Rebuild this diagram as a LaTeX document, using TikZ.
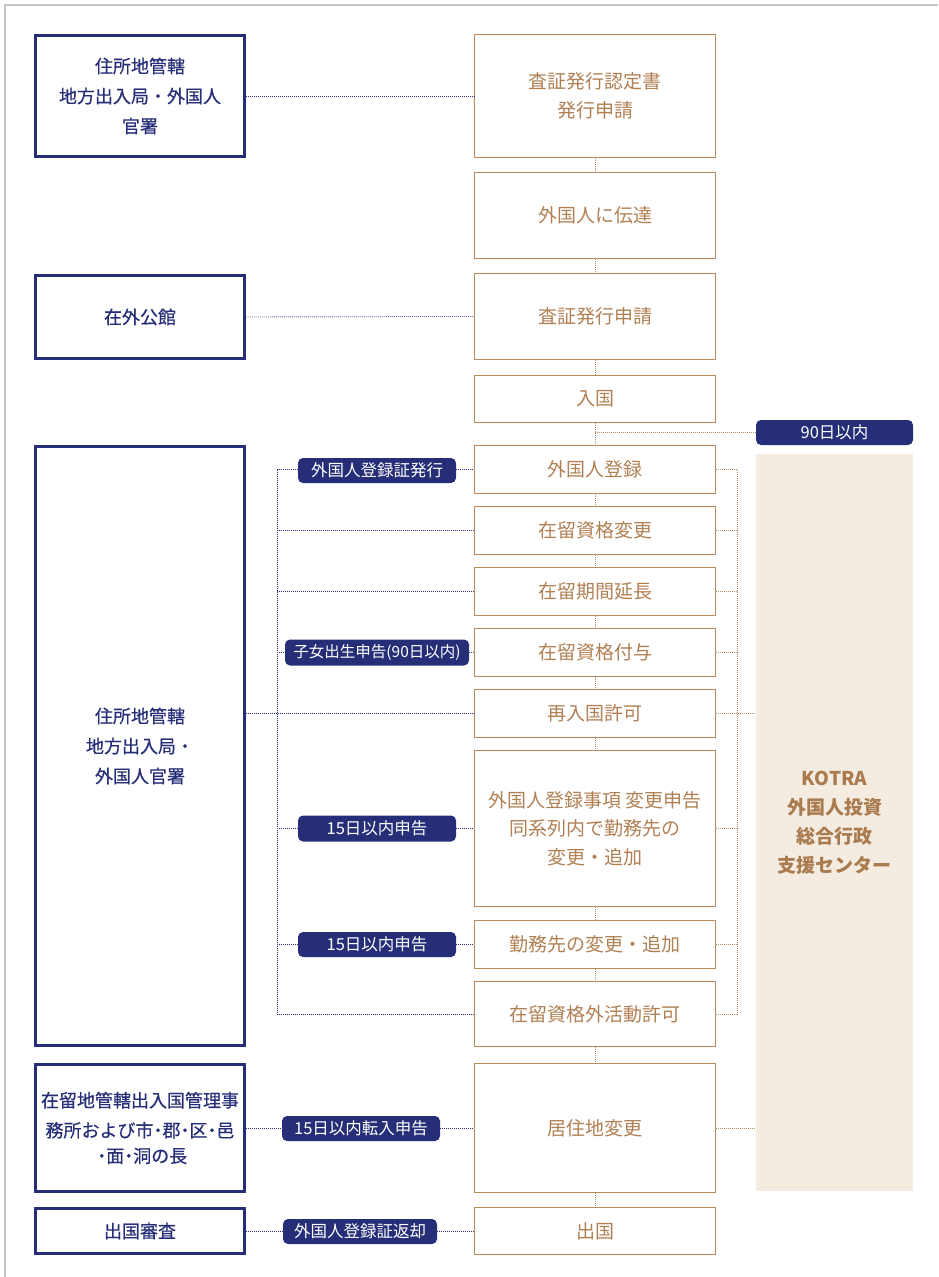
\documentclass[tikz,border=0pt]{standalone}
\usepackage{fontspec}
\setmainfont{Noto Sans CJK JP}
\newfontfamily\jpmed{Noto Sans CJK JP}[FakeBold=0.6]
\definecolor{navy}{HTML}{262E78}
\definecolor{brownb}{HTML}{B98B5F}
\definecolor{brownt}{HTML}{B07F52}
\definecolor{kfill}{HTML}{F5ECE1}
\definecolor{ktext}{HTML}{A97B4F}
\definecolor{frame}{HTML}{C4C4C4}
\newcommand{\nd}{\kern-0.25em・\kern-0.25em}
\begin{document}
\begin{tikzpicture}[x=1pt,y=-1pt,
  lbox/.style={draw=navy, line width=2.6pt, text=navy, align=center, inner sep=1pt,
    minimum width=209pt, font=\jpmed\fontsize{18}{30}\selectfont},
  cbox/.style={draw=brownb, line width=1.3pt, text=brownt, align=center, inner sep=2pt,
    minimum width=241pt, font=\fontsize{19}{28.5}\selectfont},
  pill/.style={fill=navy, rounded corners=5pt, text=white, inner sep=0pt,
    minimum height=25pt, font=\fontsize{16.5}{20}\selectfont},
  ndot/.style={draw=navy, line width=0.9pt, dash pattern=on 0.9pt off 1.1pt},
  bdot/.style={draw=brownb, line width=0.9pt, dash pattern=on 0.9pt off 1.1pt},
  kbox/.style={fill=kfill, text=ktext, align=center, inner sep=0pt,
    font=\fontsize{19}{29}\selectfont\bfseries}
]
\useasboundingbox (0,0) rectangle (938,1277);
\draw[frame, line width=1.6pt] (5,1277) -- (5,5) -- (938,5);

% left boxes
\node[lbox, minimum height=121pt] (l1) at (140,96) {住所地管轄\\地方出入局・外国人\\官署};
\node[lbox, minimum height=83pt] (l2) at (140,317) {在外公館};
\node[lbox, minimum height=599pt] (l3) at (140,746) {住所地管轄\\地方出入局・\\外国人官署};
\node[lbox, minimum height=127pt, text width=205pt] (l4) at (140,1128) {在留地管轄出入国管理事\\務所および市\nd 郡\nd 区\nd 邑\\\kern-0.25em・\kern-0.25em 面\nd 洞の長};
\node[lbox, minimum height=45pt] (l5) at (140,1231) {出国審査};

% center boxes
\node[cbox, minimum height=123pt] (c1) at (595,96) {査証発行認定書\\発行申請};
\node[cbox, minimum height=86pt] (c2) at (595,215.5) {外国人に伝達};
\node[cbox, minimum height=86pt] (c3) at (595,316.5) {査証発行申請};
\node[cbox, minimum height=47pt] (c4) at (595,399) {入国};
\node[cbox, minimum height=48pt] (c5) at (595,469.5) {外国人登録};
\node[cbox, minimum height=48pt] (c6) at (595,530.5) {在留資格変更};
\node[cbox, minimum height=48pt] (c7) at (595,591.5) {在留期間延長};
\node[cbox, minimum height=48pt] (c8) at (595,652.5) {在留資格付与};
\node[cbox, minimum height=48pt] (c9) at (595,713.5) {再入国許可};
\node[cbox, minimum height=156pt] (c10) at (595,828.5) {外国人登録事項 変更申告\\同系列内で勤務先の\\変更・追加};
\node[cbox, minimum height=48pt] (c11) at (595,944.5) {勤務先の変更・追加};
\node[cbox, minimum height=65pt] (c12) at (595,1014) {在留資格外活動許可};
\node[cbox, minimum height=129pt] (c13) at (595,1128) {居住地変更};
\node[cbox, minimum height=47pt] (c14) at (595,1231) {出国};

% KOTRA
\node[kbox, minimum width=157pt, minimum height=737pt] (k) at (834.5,822.5) {KOTRA\\外国人投資\\総合行政\\支援センター};

% pills
\node[pill, minimum width=158pt] (p1) at (377,470.5) {外国人登録証発行};
\node[pill, minimum width=184pt, minimum height=26pt, font=\fontsize{15.5}{20}\selectfont] (p2) at (377,652.5) {子女出生申告(90日以内)};
\node[pill, minimum width=158pt, minimum height=26pt] (p3) at (377,828.5) {15日以内申告};
\node[pill, minimum width=158pt] (p4) at (377,944.5) {15日以内申告};
\node[pill, minimum width=158pt] (p5) at (361,1128.5) {15日以内転入申告};
\node[pill, minimum width=154pt] (p6) at (360,1231.5) {外国人登録証返却};
\node[pill, minimum width=157pt] (p90) at (834.5,432.5) {90日以内};

% navy connectors
\coordinate (ltop) at (277,469.5);
\coordinate (lbot) at (277,1014);
\draw[ndot] (l1.east) -- (c1.west);
\draw[ndot] (l2.east) -- (c3.west);
\draw[ndot] (ltop) -- (lbot);
\draw[ndot] (ltop) -- (ltop -| p1.west);
\draw[ndot] (c5.west -| p1.east) -- (c5.west);
\draw[ndot] (ltop |- c6.west) -- (c6.west);
\draw[ndot] (ltop |- c7.west) -- (c7.west);
\draw[ndot] (ltop |- c8.west) -- (c8.west -| p2.west);
\draw[ndot] (c8.west -| p2.east) -- (c8.west);
\draw[ndot] (l3.east |- c9.west) -- (c9.west);
\draw[ndot] (ltop |- c10.west) -- (c10.west -| p3.west);
\draw[ndot] (c10.west -| p3.east) -- (c10.west);
\draw[ndot] (ltop |- c11.west) -- (c11.west -| p4.west);
\draw[ndot] (c11.west -| p4.east) -- (c11.west);
\draw[ndot] (lbot) -- (c12.west);
\draw[ndot] (l4.east) -- (c13.west -| p5.west);
\draw[ndot] (c13.west -| p5.east) -- (c13.west);
\draw[ndot] (l5.east) -- (c14.west -| p6.west);
\draw[ndot] (c14.west -| p6.east) -- (c14.west);

% brown connectors
\foreach \a/\b in {c1/c2,c2/c3,c3/c4,c4/c5,c5/c6,c6/c7,c7/c8,c8/c9,c9/c10,c10/c11,c11/c12,c12/c13,c13/c14}
  \draw[bdot] (\a.south) -- (\b.north);
\draw[bdot] (c4.south |- p90.west) -- (p90.west);
\coordinate (rtop) at (737,469.5);
\coordinate (rbot) at (737,1014);
\draw[bdot] (rtop) -- (rbot);
\foreach \c in {c5,c6,c7,c8,c10,c11,c12}
  \draw[bdot] (\c.east) -- (\c.east -| rtop);
\draw[bdot] (c9.east) -- (c9.east -| k.west);
\draw[bdot] (c13.east) -- (c13.east -| k.west);
\end{tikzpicture}
\end{document}
